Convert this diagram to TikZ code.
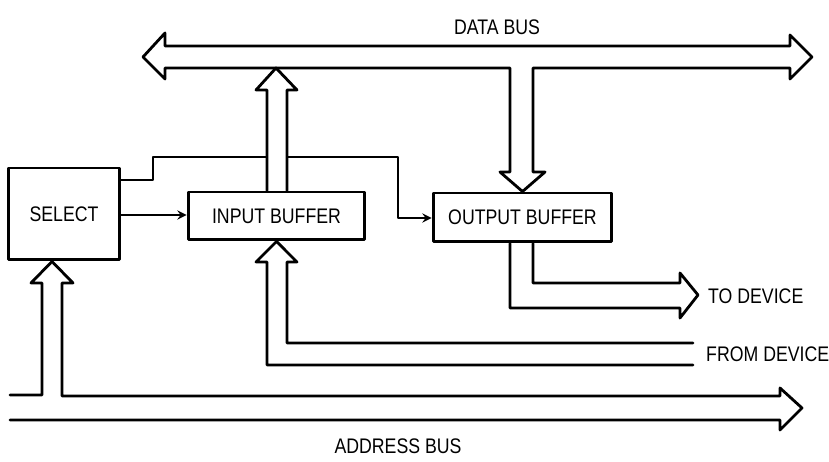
\documentclass[tikz,border=0pt]{standalone}
\usepackage{fontspec}
\setsansfont[FakeStretch=0.84]{Liberation Sans}
\usetikzlibrary{positioning}

\begin{document}
\begin{tikzpicture}[x=0.02cm, y=-0.02cm, >=stealth, line join=round, line cap=round,
	font=\sffamily\fontsize{12}{14}\selectfont,
	box/.style={draw, line width=1.7pt, fill=white, inner sep=0pt},
	bus/.style={line width=1.6pt, fill=white},
	wire/.style={line width=1.3pt}]
	\useasboundingbox (0,0) rectangle (829,462);

	% Các khối
	\node[box, minimum width=2.24cm, minimum height=1.84cm] (select) at (64,214) {SELECT};
	\node[box, minimum width=3.54cm, minimum height=0.96cm] (inbuf) at (276.5,216) {INPUT BUFFER};
	\node[box, minimum width=3.58cm, minimum height=0.98cm] (outbuf) at (522.5,217.5) {OUTPUT BUFFER};

	% Bus dữ liệu
	\draw[bus] (143,57) -- (165,33) -- (165,46) -- (790,46) -- (790,35) -- (812,57) -- (790,79) -- (790,68)
		-- (533,68) -- (533,172) -- (545,172) -- (outbuf.north) -- (500,172) -- (510,172) -- (510,68)
		-- (165,68) -- (165,79) -- cycle;
	\node at (497,27) {DATA BUS};

	% Đường điều khiển
	\draw[wire, ->] (select.east |- 0,215) -- (inbuf.west |- 0,215);
	\draw[wire, ->] (select.east |- 0,180) -- (153,180) -- (153,157) -- (398,157) -- (398,218) -- (outbuf.west |- 0,218);

	% Từ bộ đệm vào lên bus dữ liệu
	\draw[bus] ([xshift=-0.19cm]inbuf.north) -- (267,90) -- (256,90) -- (276,68) -- (297,90) -- (287,90) -- ([xshift=0.21cm]inbuf.north);

	% Từ thiết bị
	\draw[bus] (693,343) -- (287,343) -- (287,262) -- (297,262) -- (inbuf.south) -- (256,262) -- (267,262) -- (267,365) -- (693,365);
	\node[right] at (700,354) {FROM DEVICE};

	% Đến thiết bị
	\draw[bus] ([xshift=0.21cm]outbuf.south) -- (533,283) -- (680,283) -- (680,273) -- (698,295) -- (680,318) -- (680,308) -- (510,308) -- ([xshift=-0.25cm]outbuf.south);
	\node[right] at (702,296) {TO DEVICE};

	% Bus địa chỉ
	\draw[bus] (10,395) -- (42,395) -- (42,283) -- (31,283) -- (select.south -| 52,0) -- (73,283) -- (62,283) -- (62,396)
		-- (780,396) -- (780,388) -- (802,408) -- (780,430) -- (780,420) -- (10,420);
	\node at (398,446) {ADDRESS BUS};
\end{tikzpicture}
\end{document}
